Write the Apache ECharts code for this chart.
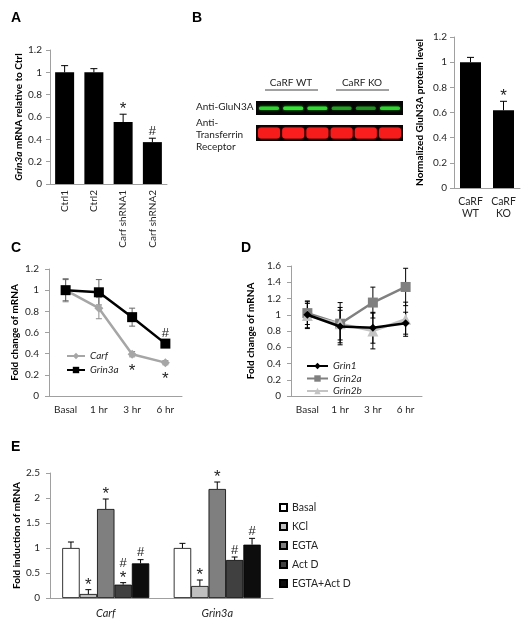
<!DOCTYPE html>
<html><head><meta charset="utf-8">
<script src="https://cdn.jsdelivr.net/npm/echarts@6/dist/echarts.min.js"></script>
<style>html,body{margin:0;padding:0;background:#fff}#c{width:526px;height:625px}</style>
</head><body><div id="c"></div>
<script>
// ---------- Panel A ----------
var catsA = ['Ctrl1', 'Ctrl2', 'Carf shRNA1', 'Carf shRNA2'];
var valsA = [1.0, 1.0, 0.555, 0.375];
var errA = [0.06, 0.033, 0.07, 0.035];
var markA = ['', '', '*', '#'];
// ---------- Panel B ----------
var catsB = ['CaRF\nWT', 'CaRF\nKO'];
var valsB = [1.0, 0.617];
var errB = [0.038, 0.072];
var markB = ['', '*'];
var blotGreen = [0.85, 1.0, 0.9, 0.6, 0.55, 0.85];
var blotRed = [0.95, 1.0, 0.95, 0.95, 1.0, 0.95];
// ---------- Panel C ----------
var timeCats = ['Basal', '1 hr', '3 hr', '6 hr'];
var carfC = [1.0, 0.83, 0.395, 0.315];
var errCarfC = [0.11, 0.1, 0.025, 0.02];
var markCarfC = ['', '', '*', '*'];
var grin3aC = [1.0, 0.98, 0.745, 0.495];
var errGrin3aC = [0.1, 0.12, 0.085, 0.03];
var markGrin3aC = ['', '', '', '#'];
// ---------- Panel D ----------
var grin1D = [1.0, 0.855, 0.84, 0.896];
var errGrin1D = [0.17, 0.2, 0.19, 0.135];
var grin2aD = [1.02, 0.89, 1.15, 1.342];
var errGrin2aD = [0.14, 0.26, 0.19, 0.23];
var grin2bD = [0.99, 0.89, 0.80, 0.945];
var errGrin2bD = [0.15, 0.2, 0.22, 0.21];
// ---------- Panel E ----------
var catsE = ['Carf', 'Grin3a'];
var seriesNamesE = ['Basal', 'KCl', 'EGTA', 'Act D', 'EGTA+Act D'];
var basalE = [1.0, 1.0];
var kclE = [0.08, 0.24];
var egtaE = [1.78, 2.18];
var actdE = [0.267, 0.76];
var egtaActdE = [0.693, 1.067];
var errBasalE = [0.12, 0.093];
var errKclE = [0.087, 0.12];
var errEgtaE = [0.2, 0.14];
var errActdE = [0.04, 0.06];
var errEgtaActdE = [0.074, 0.126];
var markBasalE = ['', ''];
var markKclE = ['*', '*'];
var markEgtaE = ['*', '*'];
var markActdE = ['#\n*', '#'];
var markEgtaActdE = ['#', '#'];

var FONT = 'Lato';
var MARKFONT = 'Liberation Sans';
var AX = '#a0a0a0', TXT = '#262626';
var chart = echarts.init(document.getElementById('c'), null, {renderer: 'canvas'});

function grid(l, t, w, h) { return {left: l, top: t, width: w, height: h, containLabel: false, outerBoundsMode: 'none'}; }
function xAx(gi, cats, lab) {
  return {type: 'category', gridIndex: gi, data: cats,
    axisLine: {lineStyle: {color: AX, width: 1}},
    axisTick: {length: 4, lineStyle: {color: AX}},
    axisLabel: Object.assign({color: TXT, fontFamily: FONT, fontSize: 10, margin: 8, interval: 0}, lab || {})};
}
function yAx(gi, max, interval, name, gap, margin) {
  return {type: 'value', gridIndex: gi, min: 0, max: max, interval: interval,
    splitLine: {show: false},
    axisLine: {show: true, lineStyle: {color: AX, width: 1}},
    axisTick: {show: true, length: 4, lineStyle: {color: AX}},
    axisLabel: {color: TXT, fontFamily: FONT, fontSize: 10, margin: margin},
    name: name, nameLocation: 'middle', nameGap: gap, nameRotate: 90,
    nameTextStyle: {fontFamily: FONT, fontSize: 10, fontWeight: 'bold', color: '#000',
      rich: {i: {fontFamily: FONT, fontSize: 10, fontWeight: 'bold', fontStyle: 'italic', color: '#000'}}}};
}
var markRich = {
  s: {fontSize: 17, fontFamily: MARKFONT, lineHeight: 12, fill: '#222', padding: [5, 0, 0, 0]},
  h: {fontSize: 13, fontFamily: MARKFONT, lineHeight: 12, fill: '#222'}
};
function markText(m) {
  return m.split('\n').map(function (c) { return c === '*' ? '{s|*}' : '{h|' + c + '}'; }).join('\n');
}
function errSeries(ai, vals, errs, marks, o) {
  return {type: 'custom', xAxisIndex: ai, yAxisIndex: ai, z: o.z || 5, silent: true,
    data: vals.map(function (v, i) { return [i, v, errs[i]]; }),
    renderItem: function (params, api) {
      var i = api.value(0), v = api.value(1), e = api.value(2);
      var pT = api.coord([i, v + e]);
      var pB = api.coord([i, o.both ? v - e : v]);
      var x = pT[0] + (o.offset || 0), c = o.cap / 2;
      var st = {stroke: o.color || '#000', lineWidth: o.lw || 1};
      var ch = [
        {type: 'line', shape: {x1: x, y1: pT[1], x2: x, y2: pB[1]}, style: st},
        {type: 'line', shape: {x1: x - c, y1: pT[1], x2: x + c, y2: pT[1]}, style: st}
      ];
      if (o.both) ch.push({type: 'line', shape: {x1: x - c, y1: pB[1], x2: x + c, y2: pB[1]}, style: st});
      var m = marks && marks[params.dataIndex];
      if (m) {
        var ts = {text: markText(m), align: 'center', rich: markRich, fill: '#222', fontSize: 13, fontFamily: MARKFONT};
        if (o.below) ch.push({type: 'text', x: x, y: pB[1] + o.gapBelow, style: Object.assign({verticalAlign: 'top'}, ts)});
        else ch.push({type: 'text', x: x, y: pT[1] - 1, style: Object.assign({verticalAlign: 'bottom'}, ts)});
      }
      return {type: 'group', children: ch};
    }};
}

// ---------- graphic (panel letters + blot) ----------
var graphic = [];
function letter(t, x, y) { graphic.push({type: 'text', x: x, y: y, style: {text: t, font: 'bold 14px "Liberation Sans"', fill: '#000'}}); }
letter('A', 11, 11); letter('B', 192, 11); letter('C', 11, 241); letter('D', 241, 241); letter('E', 11, 440);
function txt(t, x, y, align) { graphic.push({type: 'text', x: x, y: y, style: {text: t, fontFamily: FONT, fontSize: 10, fill: '#222', align: align || 'left', verticalAlign: 'middle'}}); }
txt('CaRF WT', 291, 83, 'center'); txt('CaRF KO', 362, 83, 'center');
graphic.push({type: 'line', shape: {x1: 265, y1: 90, x2: 318, y2: 90}, style: {stroke: '#444', lineWidth: 1}});
graphic.push({type: 'line', shape: {x1: 336, y1: 90, x2: 389, y2: 90}, style: {stroke: '#444', lineWidth: 1}});
txt('Anti-GluN3A', 196, 107); txt('Anti-', 196, 123); txt('Transferrin', 196, 135); txt('Receptor', 196, 147);
graphic.push({type: 'rect', shape: {x: 256, y: 101, width: 147, height: 14}, style: {fill: '#050505'}});
graphic.push({type: 'rect', shape: {x: 256, y: 125, width: 147, height: 16}, style: {fill: '#050505'}});
blotGreen.forEach(function (a, i) {
  graphic.push({type: 'rect', shape: {x: 259 + i * 24.2, y: 106.5, width: 20, height: 3.5, r: 1.5},
    style: {fill: 'rgba(50,230,50,' + a + ')', shadowBlur: 3, shadowColor: 'rgba(40,200,40,' + a + ')'}});
});
blotRed.forEach(function (a, i) {
  graphic.push({type: 'rect', shape: {x: 258 + i * 24.2, y: 127.5, width: 22, height: 11, r: 3},
    style: {fill: 'rgba(250,30,30,' + a + ')', shadowBlur: 2, shadowColor: 'rgba(230,0,0,0.8)'}});
});

var barColorsE = ['#ffffff', '#bfbfbf', '#7f7f7f', '#404040', '#0d0d0d'];
var valsE = [basalE, kclE, egtaE, actdE, egtaActdE];
var errsE = [errBasalE, errKclE, errEgtaE, errActdE, errEgtaActdE];
var marksE = [markBasalE, markKclE, markEgtaE, markActdE, markEgtaActdE];
var BWE = 17.4;

var series = [
  {type: 'bar', xAxisIndex: 0, yAxisIndex: 0, data: valsA, barWidth: 19, itemStyle: {color: '#000'}},
  errSeries(0, valsA, errA, markA, {cap: 7}),
  {type: 'bar', xAxisIndex: 1, yAxisIndex: 1, data: valsB, barWidth: 21, itemStyle: {color: '#000'}},
  errSeries(1, valsB, errB, markB, {cap: 7}),
  errSeries(2, carfC, errCarfC, markCarfC, {cap: 6, both: true, color: '#8c8c8c', below: true, gapBelow: 6, z: 1}),
  errSeries(2, grin3aC, errGrin3aC, markGrin3aC, {cap: 6, both: true, color: '#666', z: 1}),
  {type: 'line', name: 'Carf', xAxisIndex: 2, yAxisIndex: 2, data: carfC, symbol: 'diamond', symbolSize: 9,
    lineStyle: {color: '#a6a6a6', width: 2.5}, itemStyle: {color: '#a6a6a6'}, z: 3},
  {type: 'line', name: 'Grin3a', xAxisIndex: 2, yAxisIndex: 2, data: grin3aC, symbol: 'rect', symbolSize: 10,
    lineStyle: {color: '#000', width: 2.5}, itemStyle: {color: '#000'}, z: 4},
  errSeries(3, grin1D, errGrin1D, null, {cap: 5, both: true, z: 1}),
  errSeries(3, grin2aD, errGrin2aD, null, {cap: 5, both: true, z: 1}),
  errSeries(3, grin2bD, errGrin2bD, null, {cap: 5, both: true, z: 1}),
  {type: 'line', name: 'Grin1', xAxisIndex: 3, yAxisIndex: 3, data: grin1D, symbol: 'diamond', symbolSize: 8,
    lineStyle: {color: '#000', width: 2.5}, itemStyle: {color: '#000'}, z: 4},
  {type: 'line', name: 'Grin2a', xAxisIndex: 3, yAxisIndex: 3, data: grin2aD, symbol: 'rect', symbolSize: 10,
    lineStyle: {color: '#808080', width: 2.5}, itemStyle: {color: '#808080'}, z: 3},
  {type: 'line', name: 'Grin2b', xAxisIndex: 3, yAxisIndex: 3, data: grin2bD, symbol: 'triangle', symbolSize: 11,
    lineStyle: {color: '#c4c4c4', width: 2.5}, itemStyle: {color: '#c4c4c4'}, z: 3}
];
seriesNamesE.forEach(function (n, s) {
  series.push({type: 'bar', name: n, xAxisIndex: 4, yAxisIndex: 4, data: valsE[s], barWidth: BWE, barGap: '0%',
    itemStyle: {color: barColorsE[s], borderColor: '#000', borderWidth: 0.8}});
});
seriesNamesE.forEach(function (n, s) {
  series.push(errSeries(4, valsE[s], errsE[s], marksE[s], {cap: 6, offset: (s - 2) * BWE, z: 6}));
});

var legTxt = {fontFamily: FONT, fontSize: 10, color: TXT};
var option = {
  animation: false,
  backgroundColor: '#fff',
  grid: [grid(50, 50, 117, 134), grid(454, 37, 66, 151), grid(49, 269, 133, 127), grid(291, 266, 131, 130), grid(50, 473, 223, 125)],
  xAxis: [
    xAx(0, catsA, {rotate: 90, margin: 6}),
    xAx(1, catsB, {margin: 8, lineHeight: 12, fontSize: 10.5}),
    xAx(2, timeCats, {margin: 9}),
    xAx(3, timeCats, {margin: 9}),
    xAx(4, catsE, {margin: 10, fontSize: 11, fontStyle: 'italic'})
  ],
  yAxis: [
    yAx(0, 1.2, 0.2, '{i|Grin3a} mRNA relative to Ctrl', 26, 8),
    yAx(1, 1.2, 0.2, 'Normalized GluN3A protein level', 29, 7),
    yAx(2, 1.2, 0.2, 'Fold change of mRNA', 29, 10),
    yAx(3, 1.6, 0.2, 'Fold change of mRNA', 35, 10),
    yAx(4, 2.5, 0.5, 'Fold induction of mRNA', 28, 10)
  ],
  legend: [
    {data: ['Carf', 'Grin3a'], left: 61, top: 346, orient: 'vertical', itemWidth: 18, itemHeight: 8, itemGap: 4,
      selectedMode: false, textStyle: Object.assign({fontStyle: 'italic'}, legTxt)},
    {data: ['Grin1', 'Grin2a', 'Grin2b'], left: 301, top: 356, orient: 'vertical', itemWidth: 21, itemHeight: 8, itemGap: 2.5,
      selectedMode: false, textStyle: Object.assign({fontStyle: 'italic'}, legTxt)},
    {data: seriesNamesE, left: 274, top: 497, orient: 'vertical', itemWidth: 7, itemHeight: 7, itemGap: 8,
      selectedMode: false, textStyle: Object.assign({}, legTxt, {fontSize: 10.5}), icon: 'rect'}
  ],
  graphic: graphic,
  series: series
};
chart.setOption(option);
</script></body></html>
